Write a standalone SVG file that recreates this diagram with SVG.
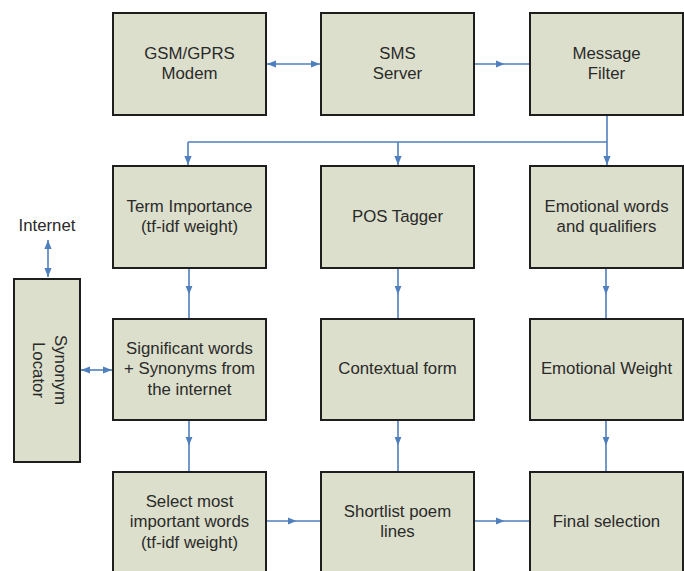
<svg xmlns="http://www.w3.org/2000/svg" width="684" height="571" viewBox="0 0 684 571">
<style>
.box{fill:#dcdfcb;stroke:#1e1e1e;stroke-width:2}
.t{font-family:"Liberation Sans",Arial,sans-serif;font-size:16.8px;fill:#2a2a2a;text-anchor:middle}
.c{fill:none;stroke:#4f7fbd;stroke-width:1.6}
</style>
<defs>
<marker id="ah" viewBox="0 0 10 10" refX="10" refY="5" markerWidth="9" markerHeight="9" markerUnits="userSpaceOnUse" orient="auto">
<path d="M0,1 L10,5 L0,9 z" fill="#4f7fbd"/>
</marker>
<marker id="ahs" viewBox="0 0 10 10" refX="0" refY="5" markerWidth="9" markerHeight="9" markerUnits="userSpaceOnUse" orient="auto">
<path d="M10,1 L0,5 L10,9 z" fill="#4f7fbd"/>
</marker>
<marker id="am" viewBox="0 0 10 10" refX="5" refY="5" markerWidth="9" markerHeight="9" markerUnits="userSpaceOnUse" orient="auto">
<path d="M0,1 L10,5 L0,9 z" fill="#4f7fbd"/>
</marker>
</defs>
<rect width="684" height="571" fill="#fff"/>
<g id="connectors">
<line class="c" x1="267" y1="64" x2="320" y2="64" marker-start="url(#ahs)" marker-end="url(#ah)"/>
<polyline class="c" points="475,64 500,64 530,64" marker-mid="url(#am)"/>
<line class="c" x1="607" y1="115" x2="607" y2="165" marker-end="url(#ah)"/>
<line class="c" x1="188" y1="142" x2="607" y2="142"/>
<line class="c" x1="188" y1="142" x2="188" y2="165" marker-end="url(#ah)"/>
<line class="c" x1="398" y1="142" x2="398" y2="165" marker-end="url(#ah)"/>
<polyline class="c" points="189,268 189,290 189,318" marker-mid="url(#am)"/>
<polyline class="c" points="398,268 398,290 398,318" marker-mid="url(#am)"/>
<polyline class="c" points="606,268 606,290 606,318" marker-mid="url(#am)"/>
<polyline class="c" points="189,420 189,441 189,472" marker-mid="url(#am)"/>
<polyline class="c" points="398,420 398,441 398,472" marker-mid="url(#am)"/>
<polyline class="c" points="606,420 606,441 606,472" marker-mid="url(#am)"/>
<polyline class="c" points="266,521 292,521 321,521" marker-mid="url(#am)"/>
<polyline class="c" points="474,521 500,521 530,521" marker-mid="url(#am)"/>
<line class="c" x1="81" y1="370" x2="112" y2="370" marker-start="url(#ahs)" marker-end="url(#ah)"/>
<line class="c" x1="48" y1="240" x2="48" y2="277" marker-start="url(#ahs)" marker-end="url(#ah)"/>
</g>
<g id="gsm"><rect class="box" x="113" y="13" width="153" height="102"/><text class="t" x="189.5" y="59">GSM/GPRS</text><text class="t" x="189.5" y="79">Modem</text></g>
<g id="sms"><rect class="box" x="321" y="13" width="153" height="102"/><text class="t" x="397.5" y="59">SMS</text><text class="t" x="397.5" y="79">Server</text></g>
<g id="filter"><rect class="box" x="530" y="13" width="153" height="102"/><text class="t" x="606.5" y="59">Message</text><text class="t" x="606.5" y="79">Filter</text></g>
<g id="term"><rect class="box" x="113" y="166" width="153" height="102"/><text class="t" x="189.5" y="212">Term Importance</text><text class="t" x="189.5" y="232">(tf-idf weight)</text></g>
<g id="pos"><rect class="box" x="321" y="166" width="153" height="102"/><text class="t" x="397.5" y="222">POS Tagger</text></g>
<g id="emo"><rect class="box" x="530" y="166" width="153" height="102"/><text class="t" x="606.5" y="212">Emotional words</text><text class="t" x="606.5" y="232">and qualifiers</text></g>
<g id="internet"><text class="t" x="47" y="231">Internet</text></g>
<g id="synonym"><rect class="box" x="14" y="279" width="66" height="183"/><text class="t" transform="translate(47,370) rotate(90)" x="0" y="-8">Synonym</text><text class="t" transform="translate(47,370) rotate(90)" x="0" y="14">Locator</text></g>
<g id="sig"><rect class="box" x="113" y="319" width="153" height="101"/><text class="t" x="189.5" y="354">Significant words</text><text class="t" x="189.5" y="374">+ Synonyms from</text><text class="t" x="189.5" y="395">the internet</text></g>
<g id="ctx"><rect class="box" x="321" y="319" width="153" height="101"/><text class="t" x="397.5" y="374">Contextual form</text></g>
<g id="ew"><rect class="box" x="530" y="319" width="153" height="101"/><text class="t" x="606.5" y="374">Emotional Weight</text></g>
<g id="select"><rect class="box" x="113" y="472" width="153" height="104"/><text class="t" x="189.5" y="507">Select most</text><text class="t" x="189.5" y="527">important words</text><text class="t" x="189.5" y="548">(tf-idf weight)</text></g>
<g id="shortlist"><rect class="box" x="321" y="472" width="153" height="104"/><text class="t" x="397.5" y="517">Shortlist poem</text><text class="t" x="397.5" y="537">lines</text></g>
<g id="final"><rect class="box" x="530" y="472" width="153" height="104"/><text class="t" x="606.5" y="527">Final selection</text></g>
</svg>
